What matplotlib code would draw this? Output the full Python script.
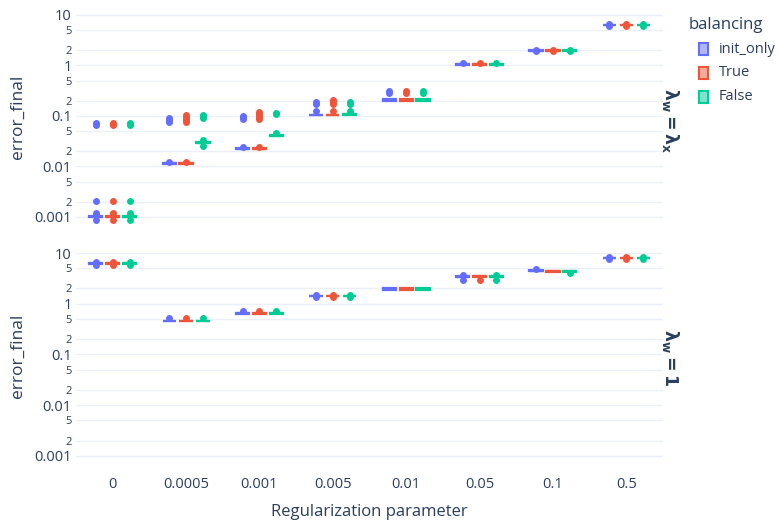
import numpy as np
import matplotlib
matplotlib.use("Agg")
import matplotlib.pyplot as plt
from matplotlib.patches import Rectangle

plt.rcParams['font.family'] = ['Open Sans', 'DejaVu Sans']
plt.rcParams['mathtext.fontset'] = 'dejavusans'

TXT = '#2a3f5f'
GRID = '#EBF0F8'

categories = ["0", "0.0005", "0.001", "0.005", "0.01", "0.05", "0.1", "0.5"]
groups = ["init_only", "True", "False"]
colors = ["#636efa", "#EF553B", "#00cc96"]

# --- row 1: lambda_w = lambda_x  (one row per balancing group) ---
top_med = [
    [0.001, 0.0116, 0.0226, 0.105, 0.205, 1.05, 1.96, 6.35],
    [0.001, 0.0116, 0.0226, 0.105, 0.205, 1.05, 1.96, 6.35],
    [0.001, 0.0295, 0.0407, 0.108, 0.205, 1.05, 1.96, 6.35],
]
top_q1 = [
    [0.00098, 0.0114, 0.0222, 0.103, 0.198, 1.03, 1.93, 6.25],
    [0.00098, 0.0114, 0.0222, 0.103, 0.198, 1.03, 1.93, 6.25],
    [0.00098, 0.0290, 0.0400, 0.106, 0.198, 1.03, 1.93, 6.25],
]
top_q3 = [
    [0.00103, 0.0118, 0.0230, 0.107, 0.214, 1.07, 1.99, 6.45],
    [0.00103, 0.0118, 0.0230, 0.107, 0.214, 1.07, 1.99, 6.45],
    [0.00103, 0.0300, 0.0414, 0.110, 0.214, 1.07, 1.99, 6.45],
]
top_fliers = [
    [[0.00088, 0.0011, 0.0012, 0.0021, 0.065, 0.069, 0.073],
     [0.0122, 0.076, 0.083, 0.091],
     [0.0242, 0.088, 0.094, 0.099],
     [0.124, 0.175, 0.19],
     [0.29, 0.31],
     [1.12],
     [1.9, 2.03],
     [6.0, 6.7]],
    [[0.00088, 0.0011, 0.0012, 0.0021, 0.065, 0.069, 0.073],
     [0.0122, 0.076, 0.082, 0.089, 0.097, 0.106],
     [0.0242, 0.086, 0.094, 0.103, 0.112, 0.12],
     [0.124, 0.172, 0.185, 0.2, 0.21],
     [0.29, 0.31],
     [1.12],
     [1.9, 2.03],
     [6.0, 6.7]],
    [[0.00088, 0.0011, 0.0012, 0.0021, 0.065, 0.069, 0.073],
     [0.026, 0.034, 0.093, 0.098, 0.103],
     [0.046, 0.108, 0.116],
     [0.124, 0.175, 0.185],
     [0.29, 0.31],
     [1.12],
     [1.9, 2.03],
     [6.0, 6.7]],
]

# --- row 2: lambda_w = 1 ---
bot_med = [
    [6.3, 0.457, 0.648, 1.42, 1.95, 3.41, 4.48, 7.97],
    [6.3, 0.457, 0.648, 1.42, 1.95, 3.45, 4.40, 7.97],
    [6.3, 0.457, 0.648, 1.42, 1.95, 3.41, 4.40, 7.97],
]
bot_q1 = [
    [6.15, 0.447, 0.635, 1.39, 1.90, 3.33, 4.38, 7.8],
    [6.15, 0.447, 0.635, 1.39, 1.90, 3.38, 4.30, 7.8],
    [6.15, 0.447, 0.635, 1.39, 1.90, 3.33, 4.30, 7.8],
]
bot_q3 = [
    [6.45, 0.467, 0.66, 1.45, 2.00, 3.49, 4.58, 8.15],
    [6.45, 0.467, 0.66, 1.45, 2.00, 3.52, 4.50, 8.15],
    [6.45, 0.467, 0.66, 1.45, 2.00, 3.49, 4.50, 8.15],
]
bot_fliers = [
    [[5.9, 6.7], [0.53], [0.72], [1.33, 1.51], [], [3.0, 3.75], [4.85], [7.5, 8.5]],
    [[5.9, 6.7], [0.53], [0.72], [1.33, 1.51], [], [3.0], [], [7.5, 8.5]],
    [[5.9, 6.7], [0.53], [0.72], [1.33, 1.51], [], [3.0, 3.75], [4.05], [7.5, 8.5]],
]

major_ticks = [0.001, 0.01, 0.1, 1, 10]
major_labels = ["0.001", "0.01", "0.1", "1", "10"]
minor_ticks = [0.002, 0.005, 0.02, 0.05, 0.2, 0.5, 2, 5]
minor_labels = ["2", "5", "2", "5", "2", "5", "2", "5"]

W, H = 778, 523
fig = plt.figure(figsize=(W / 100, H / 100), dpi=100)


def px_box(x0, y0, x1, y1):
    return [x0 / W, 1 - y1 / H, (x1 - x0) / W, (y1 - y0) / H]


ax_top = fig.add_axes(px_box(76, 10, 663, 224))
ax_bot = fig.add_axes(px_box(76, 248, 663, 463))

offsets = [-0.23, 0.0, 0.23]
x = np.arange(len(categories))


def draw_panel(ax, med, q1, q3, fliers):
    for g, col in enumerate(colors):
        stats = []
        for i in range(len(categories)):
            stats.append(dict(med=med[g][i], q1=q1[g][i], q3=q3[g][i],
                              whislo=q1[g][i], whishi=q3[g][i],
                              fliers=fliers[g][i]))
        bp = ax.bxp(stats, positions=x + offsets[g], widths=0.18,
                    patch_artist=True, showcaps=False, manage_ticks=False,
                    boxprops=dict(edgecolor=col, linewidth=1.6),
                    medianprops=dict(color=col, linewidth=1.6),
                    whiskerprops=dict(color=col, linewidth=1.6),
                    flierprops=dict(marker='o', markerfacecolor=col,
                                    markeredgecolor='none', markersize=5))
        for b in bp['boxes']:
            b.set_facecolor(matplotlib.colors.to_rgba(col, 0.5))

    ax.set_yscale('log')
    ax.set_ylim(10 ** -3.139, 10 ** 1.099)
    ax.set_xlim(-0.5, len(categories) - 0.5)

    ax.set_yticks(major_ticks, labels=major_labels)
    ax.set_yticks(minor_ticks, labels=minor_labels, minor=True)
    ax.tick_params(axis='y', which='major', labelsize=10.5, colors=TXT, length=0, pad=3)
    ax.tick_params(axis='y', which='minor', labelsize=8, colors=TXT, length=0, pad=3)
    ax.grid(True, axis='y', which='both', color=GRID, linewidth=1)
    ax.set_axisbelow(True)
    for s in ax.spines.values():
        s.set_visible(False)
    ax.set_ylabel("error_final", fontsize=12.5, color=TXT, labelpad=6)


draw_panel(ax_top, top_med, top_q1, top_q3, top_fliers)
draw_panel(ax_bot, bot_med, bot_q1, bot_q3, bot_fliers)

ax_top.set_xticks(x, labels=[])
ax_top.tick_params(axis='x', length=0)
ax_bot.set_xticks(x, labels=categories)
ax_bot.tick_params(axis='x', labelsize=10.5, colors=TXT, length=0, pad=10)
ax_bot.set_xlabel("Regularization parameter", fontsize=12, color=TXT, labelpad=9)

# facet row labels
fig.text(670 / W, 1 - 121 / H, r"$\mathbf{\lambda_w = \lambda_x}$", rotation=-90,
         ha='center', va='center', fontsize=12.5, color=TXT)
fig.text(670 / W, 1 - 358 / H, r"$\mathbf{\lambda_w = 1}$", rotation=-90,
         ha='center', va='center', fontsize=12.5, color=TXT)

# legend
fig.text(689 / W, 1 - 25 / H, "balancing", fontsize=12, color=TXT,
         ha='left', va='center')
for k, (name, col) in enumerate(zip(groups, colors)):
    yc = 49 + 24 * k
    fig.add_artist(Rectangle((699 / W, 1 - (yc + 6) / H), 9 / W, 12 / H,
                             transform=fig.transFigure,
                             facecolor=matplotlib.colors.to_rgba(col, 0.5),
                             edgecolor=col, linewidth=1.5))
    fig.text(719 / W, 1 - yc / H, name, fontsize=10.5, color=TXT,
             ha='left', va='center')

fig.savefig("out.png", dpi=100)
